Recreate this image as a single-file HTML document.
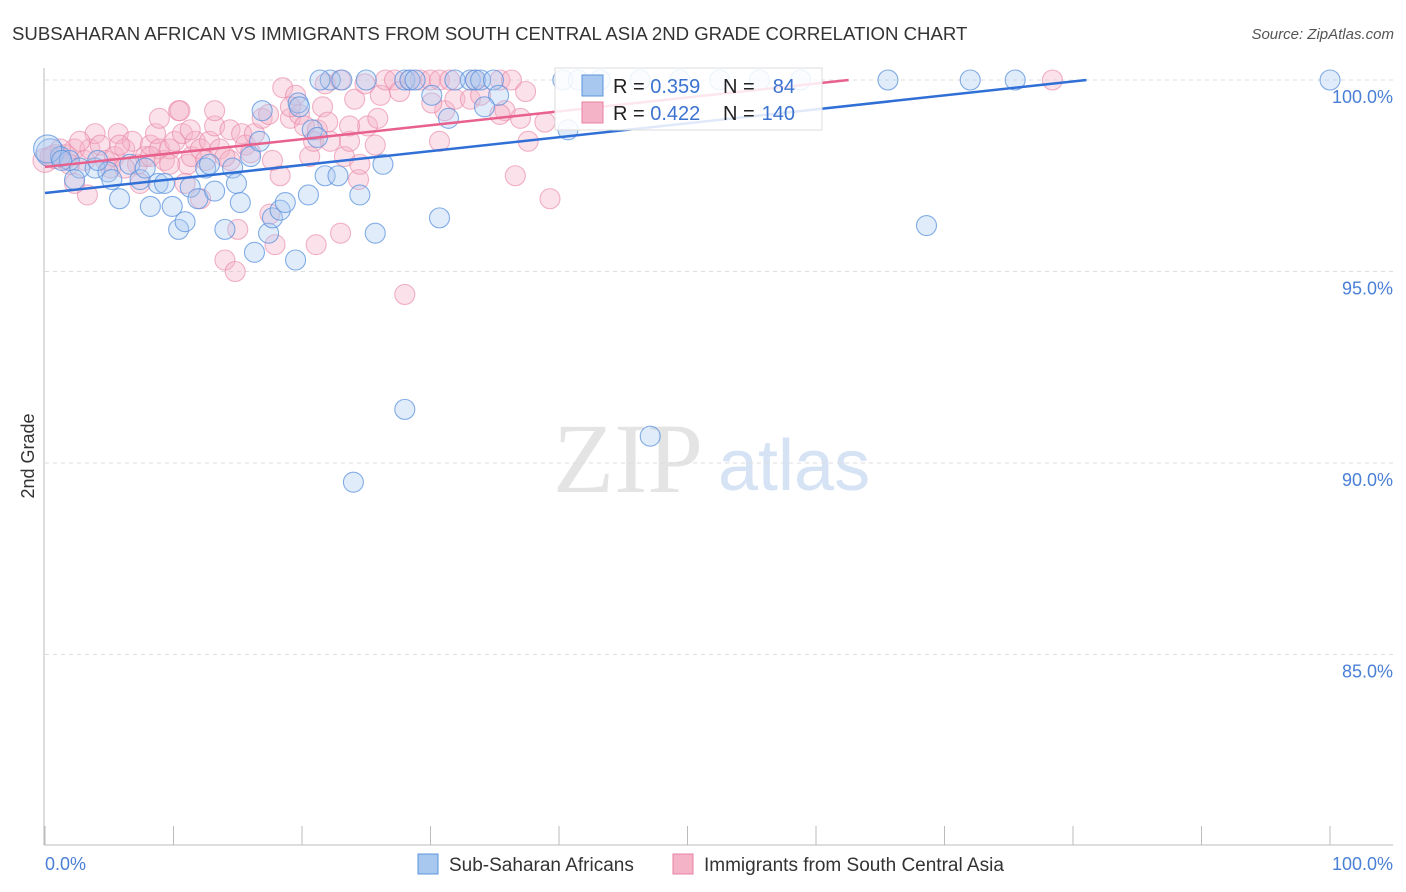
<!DOCTYPE html>
<html><head><meta charset="utf-8"><style>
body{margin:0;background:#fff;font-family:"Liberation Sans",sans-serif}
svg{display:block}
</style></head><body>
<svg width="1406" height="892">
<text x="12" y="40" font-size="18.6" fill="#333">SUBSAHARAN AFRICAN VS IMMIGRANTS FROM SOUTH CENTRAL ASIA 2ND GRADE CORRELATION CHART</text>
<text x="1394" y="39" font-size="15" fill="#555" font-style="italic" text-anchor="end">Source: ZipAtlas.com</text>
<text x="553" y="492" font-size="100" fill="#e4e4e4" font-family="Liberation Serif">ZIP</text>
<text x="718" y="490" font-size="72" fill="#d6e3f5">atlas</text>
<g id="grid"></g>
<g id="pts"></g>
<g id="lines"></g>
<text transform="translate(34,456) rotate(-90)" font-size="18" fill="#333" text-anchor="middle">2nd Grade</text>
<text x="45" y="870" font-size="18" fill="#4a7fd6">0.0%</text>
<text x="1393" y="870" font-size="18" fill="#4a7fd6" text-anchor="end">100.0%</text>
<g>
<rect x="555" y="68" width="267" height="62" fill="#fff" fill-opacity="0.85" stroke="#ddd"/>
<rect x="582" y="75" width="21" height="21" fill="#a9c8f0" stroke="#5b93dd"/>
<rect x="582" y="102" width="21" height="21" fill="#f5b3c8" stroke="#e882a3"/>
<text x="613" y="93" font-size="20" fill="#222">R = <tspan fill="#3b73d0">0.359</tspan></text>
<text x="723" y="93" font-size="20" fill="#222">N =</text>
<text x="795" y="93" font-size="20" fill="#3b73d0" text-anchor="end">84</text>
<text x="613" y="120" font-size="20" fill="#222">R = <tspan fill="#3b73d0">0.422</tspan></text>
<text x="723" y="120" font-size="20" fill="#222">N =</text>
<text x="795" y="120" font-size="20" fill="#3b73d0" text-anchor="end">140</text>
</g>
<g>
<rect x="418" y="854" width="20" height="20" fill="#a9c8f0" stroke="#5b93dd"/>
<text x="449" y="871" font-size="19" fill="#333">Sub-Saharan Africans</text>
<rect x="673" y="854" width="20" height="20" fill="#f5b3c8" stroke="#e882a3"/>
<text x="704" y="871" font-size="19" fill="#333">Immigrants from South Central Asia</text>
</g>
</svg>
<script>
const yTicks=[100,95,90,85];
const yTickLabels=["100.0%","95.0%","90.0%","85.0%"];
const xTicks=[0,10,20,30,40,50,60,70,80,90,100];
const blueX=[0.4,1.2,1.9,2.7,3.9,4.9,2.3,5.8,6.6,7.4,8.2,8.8,9.3,9.9,10.4,10.9,11.3,11.9,12.5,12.8,13.2,14.0,14.6,14.9,15.2,16.0,16.3,16.9,17.4,17.7,18.3,18.7,19.5,19.7,19.8,20.5,20.8,21.2,21.8,22.8,22.2,23.1,24.5,25.0,25.7,26.3,28.0,28.4,28.8,30.1,30.7,31.4,31.9,33.1,33.5,33.9,34.9,35.3,34.2,28.0,24.0,47.1,40.7,40.3,43.2,52.5,55.6,58.8,65.6,72.0,75.5,100,68.6,0.2,1.3,4.1,5.2,7.8,16.7,21.4,41.5,46.3,49.4];
const blueY=[98.1,98.0,97.9,97.7,97.7,97.6,97.4,96.9,97.8,97.4,96.7,97.3,97.3,96.7,96.1,96.3,97.2,96.9,97.7,97.8,97.1,96.1,97.7,97.3,96.8,98.0,95.5,99.2,96.0,96.4,96.6,96.8,95.3,99.4,99.3,97.0,98.7,98.5,97.5,97.5,100,100,97.0,100,96.0,97.8,100,100,100,99.6,96.4,99.0,100,100,100,100,100,99.6,99.3,91.4,89.5,90.7,98.7,100,100,100,100,100,100,100,100,100,96.2,98.2,97.9,97.9,97.4,97.7,98.4,100,100,100,100];
const pinkX=[0,0.8,1.6,2.3,3.1,3.5,3.9,4.3,4.7,5.1,5.4,5.7,6.2,6.8,7.2,7.8,8.2,8.6,8.9,9.3,9.7,10.1,10.4,10.7,11.1,11.4,11.7,12.1,12.5,12.8,13.2,13.6,14.0,14.4,14.8,15.0,15.3,15.6,16.0,16.3,16.9,17.4,17.7,17.9,18.3,18.5,19.1,19.5,19.8,20.2,20.6,20.9,21.2,21.6,21.8,22.0,23.0,23.3,23.7,24.1,24.4,24.5,25.1,25.7,26.1,26.5,27.2,27.6,28.0,28.4,29.2,30.0,30.7,31.1,31.5,31.9,33.1,33.5,33.9,35.4,35.8,36.3,36.6,37.0,37.4,37.6,38.9,39.3,30.7,14.4,8.9,7.4,6.2,3.3,2.3,12.1,17.5,21.1,23.0,10.9,78.4,2.7,5.8,8.2,9.7,11.3,13.2,10.5,14.0,19.1,22.2,23.7,24.9,25.9,30.1,35.4,1.2,0.4,1.9];
const pinkY=[97.9,98.0,98.0,98.2,97.9,98.2,98.6,98.3,97.9,97.7,98.0,98.6,98.2,98.4,97.8,98.0,98.3,98.6,98.2,97.9,98.2,98.4,99.2,98.6,97.8,98.0,98.4,98.2,97.9,98.4,98.8,98.2,95.3,98.7,95.0,96.1,98.6,98.3,98.1,98.6,99.0,99.1,97.9,95.7,97.5,99.8,99.0,99.6,99.1,98.8,98.0,98.4,98.7,99.3,99.9,98.9,100,98.0,98.4,99.5,97.4,97.8,98.8,98.3,99.6,100,100,99.7,94.4,100,100,100,100,99.2,100,99.5,99.5,100,99.6,100,99.2,100,97.5,99.0,99.7,98.4,98.9,96.9,98.4,97.9,99.0,97.3,97.7,97.0,97.3,96.9,96.5,95.7,96.0,97.3,100,98.4,98.3,98.0,97.8,98.7,99.2,99.2,98.0,99.3,98.4,98.8,99.9,99.0,99.4,99.1,98.2,98.0,97.8];
const trendIntercept=[97.05,97.73];
const trendSlope=[0.0364,0.0363];
const NS='http://www.w3.org/2000/svg';
const xs=v=>45+v*12.85;
const ys=v=>80+(100-v)*38.3;
function mk(tag,attrs,parent){const e=document.createElementNS(NS,tag);for(const k in attrs)e.setAttribute(k,attrs[k]);parent.appendChild(e);return e;}
const grid=document.getElementById('grid');
yTicks.forEach((t,i)=>{
 const l=mk('line',{x1:45,x2:1393,y1:ys(t),y2:ys(t),stroke:'#ddd','stroke-dasharray':'4,4'},grid);
 
 
 const tx=mk('text',{x:1393,y:ys(t)+23,'font-size':18,fill:'#4a7fd6','text-anchor':'end'},grid);
 tx.textContent=yTickLabels[i];
 
 
});
const ax=mk('line',{x1:44,x2:44,y1:68,y2:845,stroke:'#bbb'},grid);


const bx=mk('line',{x1:44,x2:1393,y1:845,y2:845,stroke:'#bbb'},grid);


xTicks.forEach(t=>{
 const l=mk('line',{x1:xs(t),x2:xs(t),y1:826,y2:845,stroke:'#bbb'},grid);
 
 
});
const pts=document.getElementById('pts');
pinkX.forEach((x,i)=>{
 const c=mk('circle',{cx:xs(x),cy:ys(pinkY[i]),r:i<3?12:10,fill:'#f5b3c8','fill-opacity':0.38,stroke:'#e882a3','stroke-opacity':0.6,'stroke-width':1.1},pts);
 
 
});
blueX.forEach((x,i)=>{
 const c=mk('circle',{cx:xs(x),cy:ys(blueY[i]),r:(i==0||i==73)?14:10,fill:'#a9c8f0','fill-opacity':0.35,stroke:'#5b93dd','stroke-opacity':0.75,'stroke-width':1.1},pts);
 
 
});
const lines=document.getElementById('lines');
const colors=['#2f6fd6','#e8608c'];
const names=['trend-line-subsaharan','trend-line-south-central-asia'];
trendIntercept.forEach((b,i)=>{
 const xEnd=Math.min(100,(100-b)/trendSlope[i]);
 const l=mk('line',{x1:xs(0),y1:ys(b),x2:xs(xEnd),y2:ys(b+trendSlope[i]*xEnd),stroke:colors[i],'stroke-width':2.5},lines);
 
 
});
</script>
</body></html>
